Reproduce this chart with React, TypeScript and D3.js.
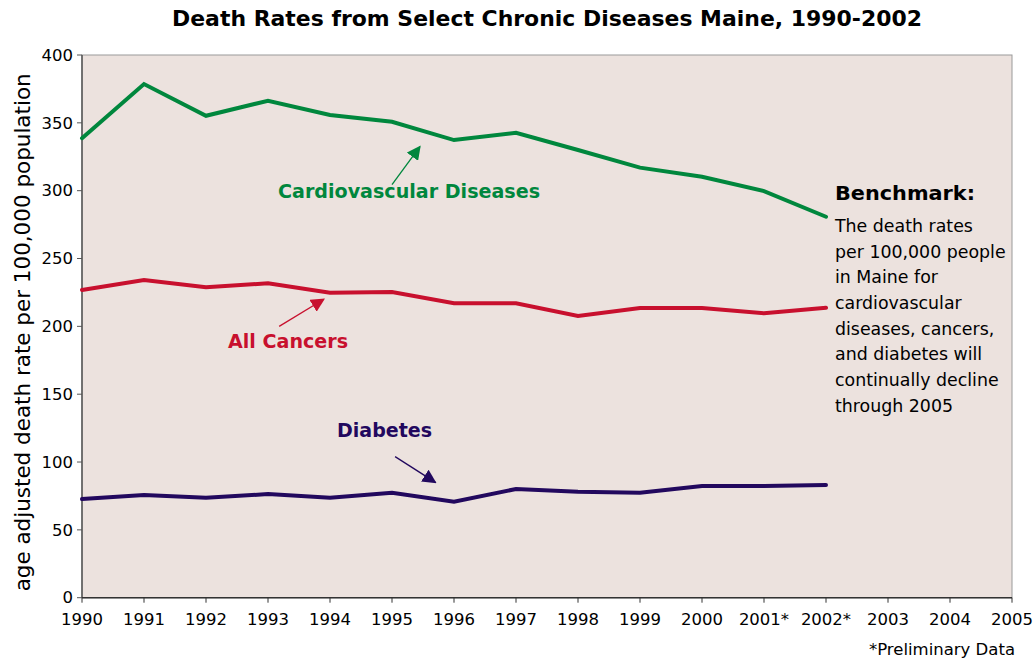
import React from "react";
import * as d3 from "d3";

const years = [1990, 1991, 1992, 1993, 1994, 1995, 1996, 1997, 1998, 1999, 2000, 2001, 2002];
const xTickYears = [1990, 1991, 1992, 1993, 1994, 1995, 1996, 1997, 1998, 1999, 2000, 2001, 2002, 2003, 2004, 2005];
const xTickLabels = ["1990", "1991", "1992", "1993", "1994", "1995", "1996", "1997", "1998", "1999", "2000", "2001*", "2002*", "2003", "2004", "2005"];
const yTicks = [0, 50, 100, 150, 200, 250, 300, 350, 400];

const cardiovascular = [338.7, 378.6, 355.2, 366.3, 355.8, 350.8, 337.3, 342.7, 330, 317, 310.3, 299.7, 280.8];
const cancers = [226.8, 234.2, 228.8, 231.7, 224.8, 225.3, 217, 217, 207.6, 213.5, 213.5, 209.6, 213.7];
const diabetes = [72.7, 75.7, 73.6, 76.4, 73.7, 77.4, 70.8, 80.1, 78.1, 77.4, 82.3, 82.3, 83];

const benchmarkLines = [
  "The death rates",
  "per 100,000 people",
  "in Maine for",
  "cardiovascular",
  "diseases, cancers,",
  "and diabetes will",
  "continually decline",
  "through 2005",
];

const W = 1033;
const H = 659;
const M = { left: 82, right: 1012, top: 55, bottom: 597.7 };

const GREEN = "#00873D";
const RED = "#C8102E";
const NAVY = "#22085E";
const FONT = "Tahoma, 'DejaVu Sans', Verdana, sans-serif";

export default function App() {
  const x = d3.scaleLinear().domain([1990, 2005]).range([M.left, M.right]);
  const y = d3.scaleLinear().domain([0, 400]).range([M.bottom, M.top]);
  const line = d3
    .line<number>()
    .x((_, i) => x(years[i]))
    .y((d) => y(d));

  const series = [
    { values: cardiovascular, color: GREEN },
    { values: cancers, color: RED },
    { values: diabetes, color: NAVY },
  ];

  const arrows = [
    { x1: 1995.0, y1: 304.5, x2: 1995.45, y2: 332.5, color: GREEN },
    { x1: 1993.18, y1: 200, x2: 1993.9, y2: 220, color: RED },
    { x1: 1995.05, y1: 104, x2: 1995.7, y2: 85, color: NAVY },
  ];

  return (
    <svg width={W} height={H} style={{ display: "block", position: "absolute", left: 0, top: 0 }} fontFamily={FONT}>
      <defs>
        {arrows.map((a, i) => (
          <marker key={i} id={`ah${i}`} viewBox="0 0 10 10" refX="9" refY="5" markerWidth="14" markerHeight="14" markerUnits="userSpaceOnUse" orient="auto">
            <path d="M0,0 L10,5 L0,10 z" fill={a.color} />
          </marker>
        ))}
      </defs>
      <rect x={0} y={0} width={W} height={H} fill="#ffffff" />
      <rect x={M.left} y={M.top} width={M.right - M.left} height={M.bottom - M.top} fill="#ECE2DE" stroke="#9a9a9a" strokeWidth={1} />

      {/* Title */}
      <text x={547} y={26} textAnchor="middle" fontSize={22} fontWeight="bold" fill="#000" textLength={750} lengthAdjust="spacingAndGlyphs">
        Death Rates from Select Chronic Diseases Maine, 1990-2002
      </text>

      {/* Y axis */}
      <line x1={M.left} x2={M.left} y1={M.top} y2={M.bottom} stroke="#555" strokeWidth={1.5} />
      {yTicks.map((t) => (
        <g key={t}>
          <line x1={M.left - 5} x2={M.left} y1={y(t)} y2={y(t)} stroke="#555" strokeWidth={1} />
          <text x={M.left - 9} y={y(t)} dy="0.35em" textAnchor="end" fontSize={16.5} fill="#000">
            {t}
          </text>
        </g>
      ))}
      <text transform={`translate(30,${(M.top + M.bottom) / 2 + 6}) rotate(-90)`} textAnchor="middle" fontSize={22} fill="#000" textLength={518} lengthAdjust="spacingAndGlyphs">
        age adjusted death rate per 100,000 population
      </text>

      {/* X axis */}
      <line x1={M.left} x2={M.right} y1={M.bottom} y2={M.bottom} stroke="#333" strokeWidth={1.5} />
      {xTickYears.map((t, i) => (
        <g key={t}>
          <line x1={x(t)} x2={x(t)} y1={M.bottom} y2={M.bottom + 5} stroke="#333" strokeWidth={1} />
          <text x={x(t)} y={625} textAnchor="middle" fontSize={16.5} fill="#000">
            {xTickLabels[i]}
          </text>
        </g>
      ))}
      <text x={1015} y={655} textAnchor="end" fontSize={16.5} fill="#000">
        *Preliminary Data
      </text>

      {/* Lines */}
      {series.map((s, i) => (
        <path key={i} d={line(s.values) || ""} fill="none" stroke={s.color} strokeWidth={4} strokeLinejoin="miter" strokeLinecap="round" />
      ))}

      {/* Arrows */}
      {arrows.map((a, i) => (
        <line key={i} x1={x(a.x1)} y1={y(a.y1)} x2={x(a.x2)} y2={y(a.y2)} stroke={a.color} strokeWidth={1.3} markerEnd={`url(#ah${i})`} />
      ))}

      {/* Labels */}
      <text x={278} y={198} fontSize={20} fontWeight="bold" fill={GREEN} textLength={262} lengthAdjust="spacingAndGlyphs">
        Cardiovascular Diseases
      </text>
      <text x={228} y={348} fontSize={20} fontWeight="bold" fill={RED} textLength={120} lengthAdjust="spacingAndGlyphs">
        All Cancers
      </text>
      <text x={337} y={437} fontSize={20} fontWeight="bold" fill={NAVY} textLength={95} lengthAdjust="spacingAndGlyphs">
        Diabetes
      </text>

      <text x={835} y={200} fontSize={20} fontWeight="bold" fill="#000" textLength={140} lengthAdjust="spacingAndGlyphs">
        Benchmark:
      </text>
      {benchmarkLines.map((l, i) => (
        <text key={i} x={835} y={232 + i * 25.7} fontSize={18.5} fill="#000" transform={`translate(${835 * 0.06},0) scale(0.94,1)`}>
          {l}
        </text>
      ))}
    </svg>
  );
}
